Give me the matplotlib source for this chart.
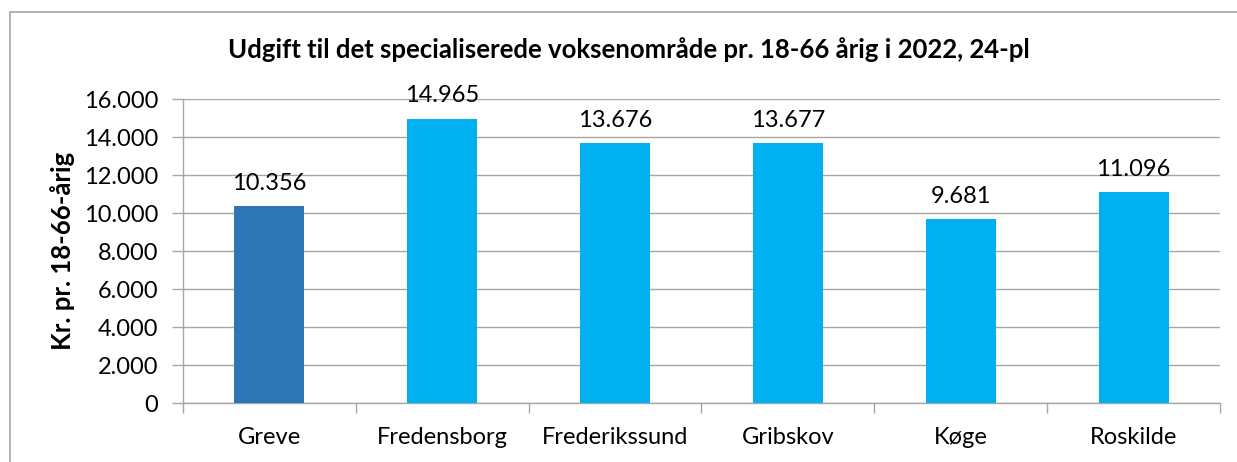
import matplotlib
matplotlib.use("Agg")
import matplotlib.pyplot as plt
from matplotlib.patches import Rectangle

categories = ["Greve", "Fredensborg", "Frederikssund", "Gribskov", "Køge", "Roskilde"]
values = [10356, 14965, 13676, 13677, 9681, 11096]
labels = ["10.356", "14.965", "13.676", "13.677", "9.681", "11.096"]
yticks = [0, 2000, 4000, 6000, 8000, 10000, 12000, 14000, 16000]
ytick_labels = ["0", "2.000", "4.000", "6.000", "8.000", "10.000", "12.000", "14.000", "16.000"]
title = "Udgift til det specialiserede voksenområde pr. 18-66 årig i 2022, 24-pl"
ylabel = "Kr. pr. 18-66-årig"
colors = ["#2E75B6", "#00B0F0", "#00B0F0", "#00B0F0", "#00B0F0", "#00B0F0"]

plt.rcParams['font.family'] = ['Lato', 'DejaVu Sans']

W, H = 1237, 462
fig = plt.figure(figsize=(W/100, H/100), dpi=100)
fig.patches.append(Rectangle((10/W, -1.0), 2.0, 1.0 + (H-12)/H, transform=fig.transFigure,
                             fill=False, edgecolor="#A6A6A6", linewidth=1.2))

left, right, top, bottom = 183, 1220, 99, 403
ax = fig.add_axes([left/W, 1-bottom/H, (right-left)/W, (bottom-top)/H])

x = list(range(len(categories)))
ax.bar(x, values, width=0.405, color=colors, zorder=3)
for xi, v, lab in zip(x, values, labels):
    ax.text(xi, v + 650, lab, ha="center", va="bottom", fontsize=17, color="black")

ax.set_xlim(-0.5, len(categories) - 0.5)
ax.set_ylim(0, 16000)
ax.set_yticks(yticks)
ax.set_yticklabels(ytick_labels, fontsize=17)
ax.set_xticks([i - 0.5 for i in range(len(categories) + 1)])
ax.set_xticklabels([])
ax.set_xticks(x, minor=True)
ax.set_xticklabels(categories, minor=True, fontsize=17)
ax.tick_params(axis="x", which="minor", length=0, pad=17)
ax.tick_params(axis="x", which="major", length=7, color="#A6A6A6", width=1)
ax.tick_params(axis="y", length=8, color="#A6A6A6", width=1, pad=10)

ax.grid(axis="y", color="#A6A6A6", linewidth=1, zorder=0)
for s in ["top", "right"]:
    ax.spines[s].set_visible(False)
for s in ["left", "bottom"]:
    ax.spines[s].set_color("#A6A6A6")
    ax.spines[s].set_linewidth(1)

ax.set_ylabel(ylabel, fontsize=18.5, fontweight="bold", labelpad=6)
fig.text(629/W, 1-50/H, title, ha="center", va="center", fontsize=18.5, fontweight="bold")

fig.savefig("out.png", dpi=100)
